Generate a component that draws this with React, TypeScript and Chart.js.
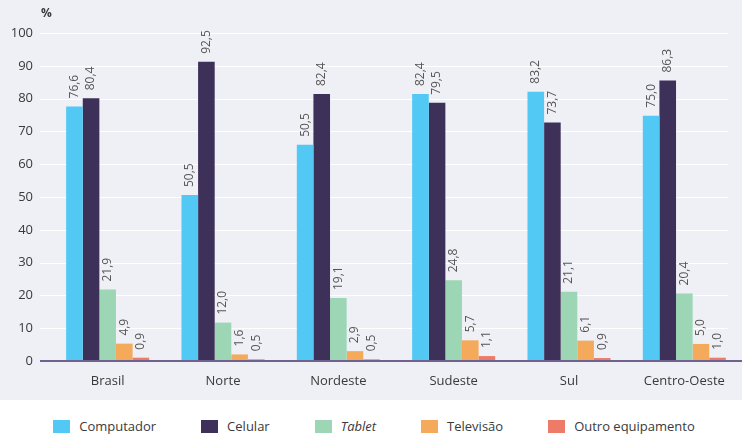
import React, { useEffect, useRef } from "react";
import { Chart, registerables } from "chart.js";

Chart.register(...registerables);

const categories = ["Brasil", "Norte", "Nordeste", "Sudeste", "Sul", "Centro-Oeste"];
const seriesNames = ["Computador", "Celular", "Tablet", "Televisão", "Outro equipamento"];
const seriesColors = ["#52c8f5", "#3e3159", "#9dd6b5", "#f4a95b", "#ee7b67"];

// bar heights as drawn in the picture
const computador = [77.6, 50.6, 65.9, 81.4, 82.1, 74.8];
const celular = [80.1, 91.2, 81.4, 78.7, 72.7, 85.5];
const tablet = [21.8, 11.7, 19.2, 24.6, 21.1, 20.6];
const televisao = [5.3, 2.0, 3.0, 6.3, 6.2, 5.2];
const outro = [1.0, 0.5, 0.5, 1.5, 0.9, 1.0];

// value labels as printed
const computadorLabels = ["76,6", "50,5", "50,5", "82,4", "83,2", "75,0"];
const celularLabels = ["80,4", "92,5", "82,4", "79,5", "73,7", "86,3"];
const tabletLabels = ["21,9", "12,0", "19,1", "24,8", "21,1", "20,4"];
const televisaoLabels = ["4,9", "1,6", "2,9", "5,7", "6,1", "5,0"];
const outroLabels = ["0,9", "0,5", "0,5", "1,1", "0,9", "1,0"];

const yMin = 0;
const yMax = 100;
const yStep = 10;

const FONT = "'Open Sans', 'Noto Sans', sans-serif";

const allValues = [computador, celular, tablet, televisao, outro];
const allLabels = [computadorLabels, celularLabels, tabletLabels, televisaoLabels, outroLabels];

const decorPlugin = {
  id: "decor",
  beforeDatasetsDraw(chart: any) {
    const ctx = chart.ctx;
    const ys = chart.scales.y;
    ctx.save();
    ctx.strokeStyle = "#ffffff";
    ctx.lineWidth = 1;
    for (let v = yMin + yStep; v <= yMax; v += yStep) {
      const y = Math.round(ys.getPixelForValue(v)) + 0.5;
      ctx.beginPath();
      ctx.moveTo(40, y);
      ctx.lineTo(728, y);
      ctx.stroke();
    }
    ctx.fillStyle = "#3a3a3a";
    ctx.font = `bold 12px ${FONT}`;
    ctx.textAlign = "left";
    ctx.textBaseline = "middle";
    ctx.fillText("%", 41, 14);
    ctx.restore();
  },
  afterDatasetsDraw(chart: any) {
    const ctx = chart.ctx;
    const ys = chart.scales.y;
    ctx.save();
    const y0 = ys.getPixelForValue(0);
    ctx.strokeStyle = "#6f6291";
    ctx.lineWidth = 2;
    ctx.beginPath();
    ctx.moveTo(40, y0);
    ctx.lineTo(742, y0);
    ctx.stroke();

    ctx.fillStyle = "#555";
    ctx.font = `12px ${FONT}`;
    chart.data.datasets.forEach((ds: any, i: number) => {
      const meta = chart.getDatasetMeta(i);
      meta.data.forEach((bar: any, j: number) => {
        ctx.save();
        ctx.translate(bar.x, bar.y - 8);
        ctx.rotate(-Math.PI / 2);
        ctx.textAlign = "left";
        ctx.textBaseline = "middle";
        ctx.fillText(allLabels[i][j], 0, 0);
        ctx.restore();
      });
    });
    ctx.restore();
  },
};

export default function App() {
  const ref = useRef<HTMLCanvasElement | null>(null);
  useEffect(() => {
    if (!ref.current) return;
    const chart = new Chart(ref.current, {
      type: "bar",
      data: {
        labels: categories,
        datasets: seriesNames.map((name, i) => ({
          label: name,
          data: allValues[i],
          backgroundColor: seriesColors[i],
          borderWidth: 0,
          categoryPercentage: 0.72,
          barPercentage: 1,
        })),
      },
      options: {
        animation: false,
        responsive: true,
        maintainAspectRatio: false,
        layout: { padding: { top: 33, right: 0, bottom: 0, left: 0 } },
        plugins: { legend: { display: false }, tooltip: { enabled: false } },
        scales: {
          x: {
            grid: { display: false, drawTicks: false },
            border: { display: false },
            ticks: { color: "#3a3a3a", font: { family: FONT, size: 13 }, padding: 12, maxRotation: 0 },
            afterFit: (s: any) => {
              s.height = 39;
            },
          },
          y: {
            min: yMin,
            max: yMax,
            grid: { display: false, drawTicks: false },
            border: { display: false },
            ticks: { stepSize: yStep, color: "#3a3a3a", font: { family: FONT, size: 13 }, padding: 17 },
            afterFit: (s: any) => {
              s.width = 50;
            },
          },
        },
      },
      plugins: [decorPlugin],
    } as any);
    return () => chart.destroy();
  }, []);

  return (
    <div style={{ position: "absolute", left: 0, top: 0, width: 742, height: 434, background: "#fff", fontFamily: FONT }}>
      <div style={{ position: "absolute", left: 0, top: 0, width: 742, height: 400, background: "#efeff6" }}>
        <canvas ref={ref} />
      </div>
      <div
        style={{
          position: "absolute",
          left: 0,
          top: 417,
          width: 742,
          height: 18,
          display: "flex",
          justifyContent: "center",
          alignItems: "center",
          gap: 45,
          paddingLeft: 6,
          boxSizing: "border-box",
        }}
      >
        {seriesNames.map((name, i) => (
          <div key={name} style={{ display: "flex", alignItems: "center", fontSize: 13, color: "#3a3a3a" }}>
            <span style={{ display: "inline-block", width: 17, height: 13, background: seriesColors[i], marginRight: 9 }} />
            <span style={{ fontStyle: name === "Tablet" ? "italic" : "normal" }}>{name}</span>
          </div>
        ))}
      </div>
    </div>
  );
}
